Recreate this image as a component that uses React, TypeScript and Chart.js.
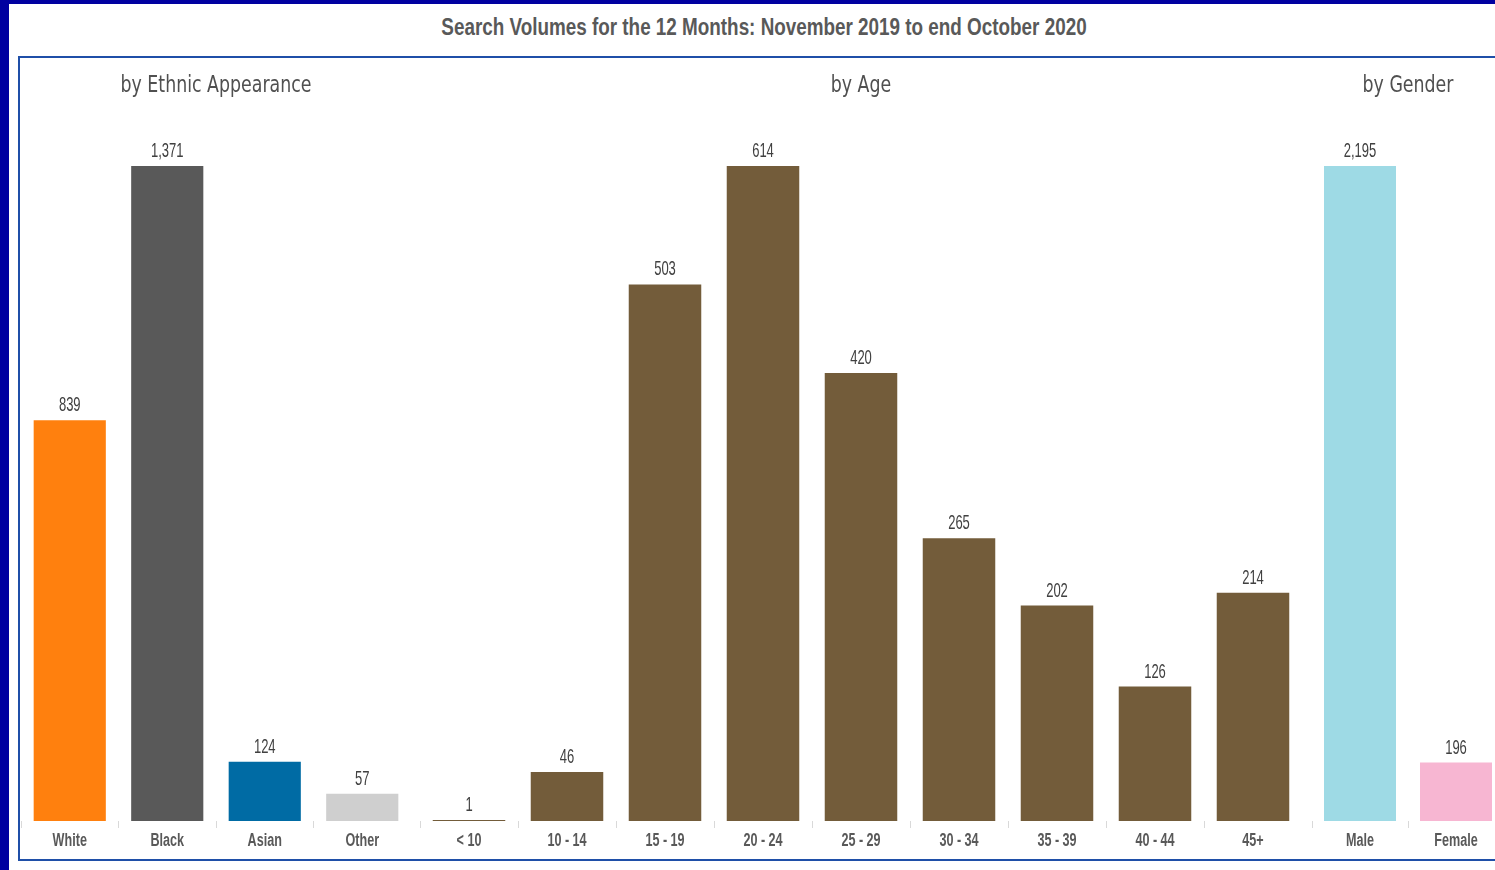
import React, { useEffect, useRef } from "react";
import { Chart, registerables } from "chart.js";

Chart.register(...registerables);

const mainTitle = "Search Volumes for the 12 Months: November 2019 to end October 2020";

const ethnicTitle = "by Ethnic Appearance";
const ethnicLabels = ["White", "Black", "Asian", "Other"];
const ethnicValues = [839, 1371, 124, 57];
const ethnicColors = ["#FF800E", "#595959", "#006BA4", "#CFCFCF"];

const ageTitle = "by Age";
const ageLabels = ["< 10", "10 - 14", "15 - 19", "20 - 24", "25 - 29", "30 - 34", "35 - 39", "40 - 44", "45+"];
const ageValues = [1, 46, 503, 614, 420, 265, 202, 126, 214];
const ageColors = ["#735C3A", "#735C3A", "#735C3A", "#735C3A", "#735C3A", "#735C3A", "#735C3A", "#735C3A", "#735C3A"];

const genderTitle = "by Gender";
const genderLabels = ["Male", "Female"];
const genderValues = [2195, 196];
const genderColors = ["#9EDAE5", "#F7B6D2"];

const SANS = '"Liberation Sans", Arial, sans-serif';
const SUB = '"DejaVu Sans", sans-serif';

const CANVAS_TOP = 58;
const CANVAS_H = 800;
const PAD = 2;

function drawScaled(
  ctx: CanvasRenderingContext2D,
  text: string,
  x: number,
  y: number,
  font: string,
  sx: number,
  color: string
) {
  ctx.save();
  ctx.translate(x, y);
  ctx.scale(sx, 1);
  ctx.font = font;
  ctx.fillStyle = color;
  ctx.textAlign = "center";
  ctx.textBaseline = "alphabetic";
  ctx.fillText(text, 0, 0);
  ctx.restore();
}

function makeTextPlugin(title: string) {
  return {
    id: "scaledText",
    afterDraw(chart: any) {
      const ctx = chart.ctx as CanvasRenderingContext2D;
      const area = chart.chartArea;
      const xs = chart.scales.x;
      drawScaled(ctx, title, (area.left + area.right) / 2, area.top - 74, `23.5px ${SUB}`, 0.74, "#505050");
      const labels = chart.data.labels as string[];
      labels.forEach((lab, i) => {
        drawScaled(ctx, lab, xs.getPixelForTick(i), area.bottom + 25, `bold 18px ${SANS}`, 0.7, "#595959");
      });
      const ds = chart.data.datasets[0];
      const meta = chart.getDatasetMeta(0);
      meta.data.forEach((bar: any, i: number) => {
        const v = ds.data[i] as number;
        drawScaled(ctx, v.toLocaleString("en-US"), bar.x, bar.y - 9, `21px ${SANS}`, 0.62, "#404040");
      });
    },
  };
}

function SubChart(props: {
  title: string;
  labels: string[];
  values: number[];
  colors: string[];
  areaLeft: number;
  areaWidth: number;
  barPct: number;
}) {
  const ref = useRef<HTMLCanvasElement | null>(null);
  useEffect(() => {
    if (!ref.current) return;
    const chart = new Chart(ref.current, {
      type: "bar",
      data: {
        labels: props.labels,
        datasets: [
          {
            data: props.values,
            backgroundColor: props.colors,
            borderWidth: 0,
            barPercentage: props.barPct,
            categoryPercentage: 1,
          },
        ],
      },
      options: {
        responsive: false,
        animation: false,
        events: [],
        layout: { padding: { left: PAD, right: PAD, top: 108, bottom: 30 } },
        plugins: {
          legend: { display: false },
          tooltip: { enabled: false },
          title: { display: false },
        },
        scales: {
          x: {
            offset: true,
            border: { display: false },
            grid: {
              display: true,
              offset: true,
              drawOnChartArea: false,
              drawTicks: true,
              tickLength: 7,
              lineWidth: 1,
              color: (c: any) => (c.type === "tick" ? "#D9D9D9" : "rgba(0,0,0,0)"),
            },
            ticks: { display: false, autoSkip: false },
          },
          y: {
            display: false,
            min: 0,
            max: Math.max(...props.values),
          },
        },
      },
      plugins: [makeTextPlugin(props.title)],
    } as any);
    return () => chart.destroy();
  }, []);
  return (
    <canvas
      ref={ref}
      width={props.areaWidth + PAD * 2}
      height={CANVAS_H}
      style={{
        position: "absolute",
        left: props.areaLeft - PAD,
        top: CANVAS_TOP,
        width: props.areaWidth + PAD * 2,
        height: CANVAS_H,
      }}
    />
  );
}

export default function App() {
  return (
    <div
      style={{
        position: "fixed",
        left: 0,
        top: 0,
        width: "100vw",
        height: "100vh",
        overflow: "hidden",
        background: "#0000A0",
      }}
    >
      <div
        style={{
          position: "absolute",
          left: 9,
          top: 4,
          right: 0,
          bottom: 0,
          background: "#FFFFFF",
        }}
      />
      <div
        style={{
          position: "absolute",
          left: 0,
          width: 1528,
          top: 11.5,
          textAlign: "center",
          fontFamily: SANS,
          fontWeight: "bold",
          fontSize: 23,
          lineHeight: "30px",
          color: "#595959",
          whiteSpace: "nowrap",
          transform: "scaleX(0.82)",
          transformOrigin: "764px 50%",
        }}
      >
        {mainTitle}
      </div>
      <div
        style={{
          position: "absolute",
          left: 18,
          top: 56,
          width: 1530,
          height: 805,
          boxSizing: "border-box",
          border: "2px solid #1F4FA8",
        }}
      />
      <SubChart
        title={ethnicTitle}
        labels={ethnicLabels}
        values={ethnicValues}
        colors={ethnicColors}
        areaLeft={21}
        areaWidth={390}
        barPct={0.74}
      />
      <SubChart
        title={ageTitle}
        labels={ageLabels}
        values={ageValues}
        colors={ageColors}
        areaLeft={420}
        areaWidth={882}
        barPct={0.74}
      />
      <SubChart
        title={genderTitle}
        labels={genderLabels}
        values={genderValues}
        colors={genderColors}
        areaLeft={1312}
        areaWidth={192}
        barPct={0.75}
      />
    </div>
  );
}
